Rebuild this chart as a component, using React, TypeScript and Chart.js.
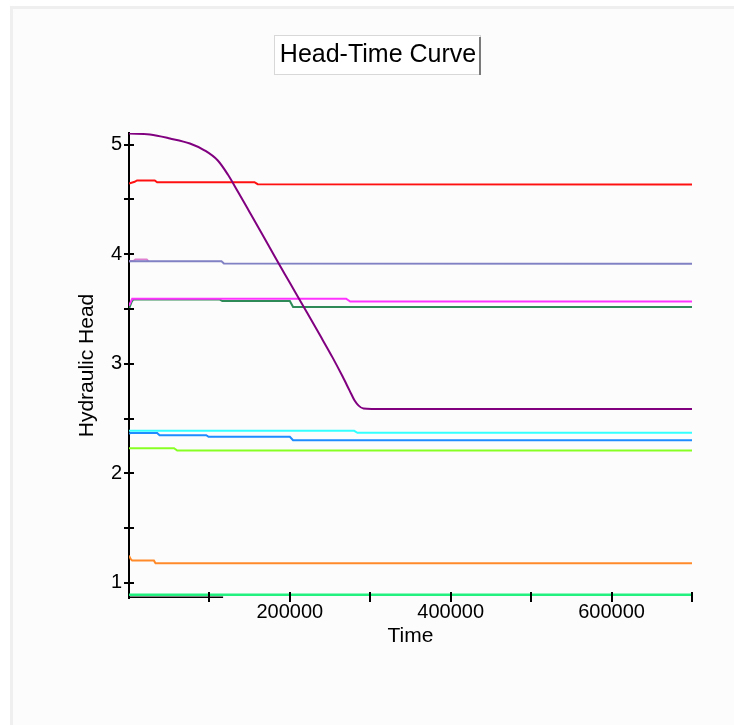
import React, { useEffect, useRef } from "react";
import { Chart, registerables } from "chart.js";

Chart.register(...registerables);

const FONT = '"Liberation Sans", Arial, Helvetica, sans-serif';
const TITLE = "Head-Time Curve";
const X_TITLE = "Time";
const Y_TITLE = "Hydraulic Head";

// Tick values and labels
const xTickValues = [100000, 200000, 300000, 400000, 500000, 600000, 700000];
const xTickLabels = [200000, 400000, 600000];
const yTickValues = [1, 1.5, 2, 2.5, 3, 3.5, 4, 4.5, 5];
const yTickLabels = [1, 2, 3, 4, 5];

// Series values (time, hydraulic head)
const purpleT = [0, 26100, 50900, 75700, 94300, 110400, 122900, 135300, 150200, 165100, 181200, 199800, 218400, 237000, 253200, 265600, 274300, 280500, 285500, 291600, 301600, 700000];
const purpleH = [5.1, 5.091, 5.055, 5.009, 4.945, 4.854, 4.726, 4.571, 4.38, 4.188, 3.978, 3.741, 3.504, 3.266, 3.056, 2.883, 2.755, 2.664, 2.618, 2.591, 2.587, 2.587];

const redT = [0, 7000, 10000, 32000, 35000, 156000, 160000, 700000];
const redH = [4.645, 4.66, 4.672, 4.672, 4.656, 4.656, 4.638, 4.636];

const pinkT = [0, 6000, 8000, 22000, 24000];
const pinkH = [3.935, 3.94, 3.952, 3.952, 3.935];

const slateT = [0, 115000, 118000, 700000];
const slateH = [3.934, 3.934, 3.915, 3.913];

const magentaT = [0, 4000, 270000, 275000, 700000];
const magentaH = [3.53, 3.594, 3.594, 3.568, 3.568];

const seaGreenT = [0, 3000, 5000, 113000, 116000, 200000, 204000, 700000];
const seaGreenH = [3.5, 3.56, 3.585, 3.585, 3.572, 3.572, 3.518, 3.518];

const cyanT = [0, 280000, 284000, 700000];
const cyanH = [2.388, 2.388, 2.37, 2.37];

const blueT = [0, 2000, 35000, 38000, 96000, 99000, 200000, 204000, 700000];
const blueH = [2.36, 2.369, 2.369, 2.348, 2.348, 2.333, 2.333, 2.302, 2.302];

const limeT = [0, 56000, 60000, 700000];
const limeH = [2.229, 2.229, 2.208, 2.208];

const orangeT = [0, 2000, 4000, 31000, 33000, 700000];
const orangeH = [1.25, 1.22, 1.204, 1.204, 1.18, 1.18];

const springT = [0, 700000];
const springH = [0.892, 0.892];

const blackT = [0, 117000];
const blackH = [0.868, 0.868];

const X_MIN = 0;
const X_MAX = 700000;
const Y_MIN = 0.863;
const Y_MAX = 5.105;

type Series = { label: string; t: number[]; h: number[]; color: string; width: number; smooth?: boolean };

const series: Series[] = [
  { label: "S12", t: blackT, h: blackH, color: "#000000", width: 2 },
  { label: "S11", t: springT, h: springH, color: "#22f07f", width: 2.5 },
  { label: "S1", t: purpleT, h: purpleH, color: "#800080", width: 2, smooth: true },
  { label: "S2", t: redT, h: redH, color: "#ff1010", width: 2 },
  { label: "S4", t: slateT, h: slateH, color: "#8080c4", width: 2 },
  { label: "S3", t: pinkT, h: pinkH, color: "#e080d0", width: 2 },
  { label: "S5", t: magentaT, h: magentaH, color: "#ff33ff", width: 2 },
  { label: "S6", t: seaGreenT, h: seaGreenH, color: "#2e8b57", width: 2 },
  { label: "S7", t: cyanT, h: cyanH, color: "#33ffff", width: 2 },
  { label: "S8", t: blueT, h: blueH, color: "#1e8cff", width: 2 },
  { label: "S9", t: limeT, h: limeH, color: "#88ff22", width: 2 },
  { label: "S10", t: orangeT, h: orangeH, color: "#ff8a2a", width: 2 },
];

const framePlugin = {
  id: "frame",
  beforeDraw(chart: any) {
    const ctx = chart.ctx;
    ctx.save();
    ctx.fillStyle = "#ffffff";
    ctx.fillRect(0, 0, chart.width, chart.height);
    ctx.fillStyle = "#efefef";
    ctx.fillRect(10, 6, chart.width - 10, chart.height - 6);
    ctx.fillStyle = "#fcfcfc";
    ctx.fillRect(13, 9, chart.width - 13, chart.height - 9);
    // title box (button-like)
    const tb = chart.titleBlock;
    const cx = tb ? (tb.left + tb.right) / 2 : chart.width / 2;
    const cy = tb ? tb.top + 40 + 15 : 55;
    ctx.font = `25px ${FONT}`;
    const w = ctx.measureText(TITLE).width;
    const x0 = Math.round(cx - w / 2 - 6);
    const x1 = Math.round(cx + w / 2 + 5);
    const y0 = Math.round(cy - 20);
    const y1 = Math.round(cy + 20);
    ctx.fillStyle = "#ffffff";
    ctx.fillRect(x0, y0, x1 - x0, y1 - y0);
    ctx.strokeStyle = "#d8d8d8";
    ctx.lineWidth = 1;
    ctx.strokeRect(x0 + 0.5, y0 + 0.5, x1 - x0 - 1, y1 - y0 - 1);
    ctx.fillStyle = "#7a7a7a";
    ctx.fillRect(x1 - 2, y0 + 2, 2, y1 - y0 - 2);
    ctx.restore();
  },
};

const ticksPlugin = {
  id: "crossTicks",
  afterDraw(chart: any) {
    const ctx = chart.ctx;
    const xs = chart.scales.x;
    const ys = chart.scales.y;
    ctx.save();
    ctx.strokeStyle = "#000000";
    ctx.lineWidth = 2;
    ctx.beginPath();
    ys.ticks.forEach((t: any) => {
      const p = Math.round(ys.getPixelForValue(t.value));
      ctx.moveTo(ys.right - 5, p);
      ctx.lineTo(ys.right + 5, p);
    });
    xs.ticks.forEach((t: any) => {
      const p = Math.round(xs.getPixelForValue(t.value));
      ctx.moveTo(p, xs.top - 6);
      ctx.lineTo(p, xs.top + 4);
    });
    ctx.stroke();
    ctx.restore();
  },
};

export default function App() {
  const ref = useRef<HTMLCanvasElement | null>(null);

  useEffect(() => {
    if (!ref.current) return;
    const datasets = series.map((s) => ({
      label: s.label,
      data: s.t.map((t, i) => ({ x: t, y: s.h[i] })),
      borderColor: s.color,
      backgroundColor: s.color,
      borderWidth: s.width,
      pointRadius: 0,
      fill: false,
      tension: 0,
      cubicInterpolationMode: s.smooth ? "monotone" : "default",
    }));

    const chart = new Chart(ref.current, {
      type: "line",
      data: { datasets } as any,
      plugins: [framePlugin, ticksPlugin],
      options: {
        responsive: false,
        animation: false,
        devicePixelRatio: 1,
        layout: { padding: { left: 64, right: 42, top: 0, bottom: 0 } },
        plugins: {
          legend: { display: false },
          tooltip: { enabled: false },
          title: {
            display: true,
            text: TITLE,
            color: "#000000",
            font: { family: FONT, size: 25, weight: "normal" },
            padding: { top: 40, bottom: 63 },
          },
        },
        scales: {
          x: {
            type: "linear",
            min: X_MIN,
            max: X_MAX,
            afterBuildTicks: (s: any) => {
              s.ticks = xTickValues.map((v) => ({ value: v }));
            },
            afterFit: (s: any) => {
              s.height = 127;
            },
            border: { display: false },
            grid: { display: false, drawTicks: false },
            ticks: {
              autoSkip: false,
              maxRotation: 0,
              padding: 2,
              color: "#000000",
              font: { family: FONT, size: 20 },
              callback: (v: any) => (xTickLabels.includes(Number(v)) ? String(v) : ""),
            },
            title: {
              display: true,
              text: X_TITLE,
              color: "#000000",
              font: { family: FONT, size: 21 },
              padding: { top: 0, bottom: 76 },
            },
          },
          y: {
            type: "linear",
            min: Y_MIN,
            max: Y_MAX,
            afterBuildTicks: (s: any) => {
              s.ticks = yTickValues.map((v) => ({ value: v }));
            },
            afterFit: (s: any) => {
              s.width = 65;
            },
            border: { display: true, color: "#000000", width: 2 },
            grid: { display: false, drawTicks: false },
            ticks: {
              autoSkip: false,
              padding: 7,
              color: "#000000",
              font: { family: FONT, size: 20 },
              callback: (v: any) => {
                const n = Number(v);
                return yTickLabels.some((k) => Math.abs(k - n) < 1e-9) ? String(Math.round(n)) : "";
              },
            },
            title: {
              display: true,
              text: Y_TITLE,
              color: "#000000",
              font: { family: FONT, size: 21 },
              padding: { top: 11, bottom: 0 },
            },
          },
        },
      } as any,
    });
    return () => chart.destroy();
  }, []);

  return (
    <div style={{ position: "fixed", left: 0, top: 0, width: 734, height: 725 }}>
      <canvas ref={ref} width={734} height={725} style={{ display: "block", width: 734, height: 725 }} />
    </div>
  );
}
